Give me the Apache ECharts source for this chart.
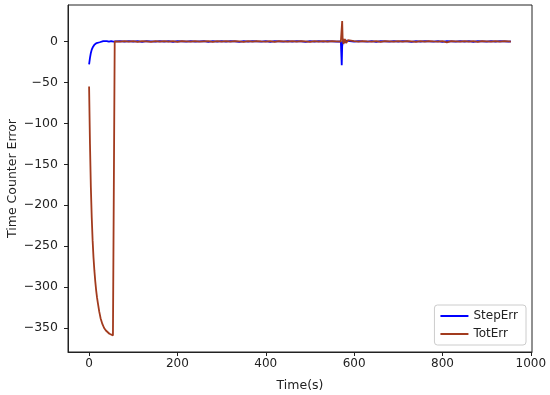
<!DOCTYPE html>
<html>
<head>
<meta charset="utf-8">
<script src="https://cdn.jsdelivr.net/npm/echarts@6/dist/echarts.min.js"></script>
<style>html,body{margin:0;padding:0;background:#fff}#c{width:550px;height:395px}</style>
</head>
<body>
<div id="c"></div>
<script>
// Sample times (s) for StepErr
const stepTime = [0,2,4,6,8,10,12,14,17,20,24,28,32,36,40,45,50,55,60,
  70,80,90,100,110,120,130,140,150,160,170,180,190,200,210,220,230,240,250,260,270,280,290,300,
  310,320,330,340,350,360,370,380,390,400,410,420,430,440,450,460,470,480,490,500,510,520,530,540,550,560,
  570,572,573,574,576,579,582,586,590,600,610,620,630,640,650,660,670,680,690,700,710,720,730,740,750,
  760,770,780,790,800,810,820,830,840,850,860,870,880,890,900,910,920,930,940,950,955];
const stepErr = [-28,-20,-14,-10,-7.5,-5.5,-4,-3,-2,-1.5,-1,-0.5,0.5,-0.5,0.5,-0.3,0.5,-0.3,0,
  0.3,-0.3,0.5,-0.3,0.3,-0.5,0.3,0,-0.3,0.5,-0.3,0.3,-0.5,0.3,0,-0.3,0.5,-0.3,0,0.3,-0.5,0.3,-0.3,0.5,
  -0.3,0.3,0,-0.5,0.3,-0.3,0.5,0,-0.3,0.3,-0.5,0.3,0,-0.3,0.5,-0.3,0.3,0,-0.5,0.3,-0.3,0.5,-0.3,0.3,0,-0.3,
  0,-29,-6,-2,2,-1.5,1,-0.5,0.3,-0.3,0.5,0,-0.3,0.3,-0.5,0.3,0,-0.3,0.5,-0.3,0.3,0,-0.5,0.3,-0.3,
  0.5,0,-0.3,0.3,-0.5,0.3,0,-0.3,0.5,-0.3,0.3,-0.5,0.3,0,-0.3,0.5,-0.3,0.3,0,-0.3,0];

// Sample times (s) for TotErr
const totTime = [0,2,4,6,8,10,12,14,16,18,20,23,26,30,34,38,42,46,50,54,57,58,60,
  70,80,90,100,110,120,130,140,150,160,170,180,190,200,210,220,230,240,250,260,270,280,290,300,
  310,320,330,340,350,360,370,380,390,400,410,420,430,440,450,460,470,480,490,500,510,520,530,540,550,560,
  570,572,573,574,576,579,582,586,590,600,610,620,630,640,650,660,670,680,690,700,710,720,730,740,750,
  760,770,780,790,800,810,820,830,840,850,860,870,880,890,900,910,920,930,940,950,955];
const totErr = [-55,-125,-178,-215,-243,-264,-280,-293,-304,-313,-320,-330,-338,-345,-350,-353,-355,-357,-358,-359,-360,0,1,
  -0.3,0.5,-0.3,0.3,-0.5,0.3,0,-0.5,0.3,-0.3,0.5,-0.3,0.3,-0.5,0.3,0,-0.3,0.5,-0.3,0,0.3,-0.5,0.3,-0.3,0.5,
  -0.3,0.3,0,-0.5,0.3,-0.3,0.5,0,-0.3,0.3,-0.5,0.3,0,-0.3,0.5,-0.3,0.3,0,-0.5,0.3,-0.3,0.5,-0.3,0.3,0,-0.3,
  0,25,4,-3,3,-2,1.5,-0.5,0.3,-0.3,0.5,0,-0.3,0.3,-0.5,0.3,0,-0.3,0.5,-0.3,0.3,0,-0.5,0.3,-0.3,
  0.5,0,-0.3,0.3,-1.2,0.3,0,-0.3,0.5,-0.3,0.3,-0.5,0.3,0,-0.3,0.5,-0.3,0.3,0,-0.3,0];

const xTicks = [0,200,400,600,800,1000];
const yTicks = [-350,-300,-250,-200,-150,-100,-50,0];

const seriesNames = ['StepErr','TotErr'];

const FONT = 'DejaVu Sans';
const minus = v => String(v).replace('-', '\u2212');

const chart = echarts.init(document.getElementById('c'), null, {renderer:'canvas'});
chart.setOption({
  animation:false,
  backgroundColor:'#fff',
  grid:{left:68,right:18,top:5,bottom:43,show:true,borderColor:'#222',borderWidth:1,backgroundColor:'transparent',
        containLabel:false,outerBoundsMode:'none'},
  legend:{
    right:24, bottom:50, orient:'vertical', itemGap:6,
    backgroundColor:'#fff', borderColor:'#ccc', borderWidth:1, borderRadius:3, padding:[5,8,5,6],
    itemWidth:28, itemHeight:2,
    icon:'rect',
    textStyle:{fontFamily:FONT,fontSize:12,color:'#222'},
    data:seriesNames
  },
  xAxis:{
    type:'value', min:-47.75, max:1002.75,
    name:'Time(s)', nameLocation:'middle', nameGap:27, nameMoveOverlap:false,
    nameTextStyle:{fontFamily:FONT,fontSize:12.5,color:'#222'},
    axisLine:{show:true,onZero:false,lineStyle:{color:'#222',width:1}},
    axisTick:{show:true,length:4,lineStyle:{color:'#222'},customValues:xTicks},
    axisLabel:{fontFamily:FONT,fontSize:12,color:'#222',margin:6,customValues:xTicks,formatter:minus},
    splitLine:{show:false}
  },
  yAxis:{
    type:'value', min:-379.3, max:44.5,
    name:'Time Counter Error', nameLocation:'middle', nameGap:49, nameRotate:90, nameMoveOverlap:false,
    nameTextStyle:{fontFamily:FONT,fontSize:12.5,color:'#222'},
    axisLine:{show:true,onZero:false,lineStyle:{color:'#222',width:1}},
    axisTick:{show:true,length:4,lineStyle:{color:'#222'},customValues:yTicks},
    axisLabel:{fontFamily:FONT,fontSize:12.5,color:'#222',margin:10,customValues:yTicks,formatter:minus},
    splitLine:{show:false}
  },
  series:[
    {name:seriesNames[0],type:'line',showSymbol:false,color:'#0000ff',lineStyle:{width:1.8,color:'#0000ff'},
     data:stepTime.map((t,i)=>[t,stepErr[i]]),z:2},
    {name:seriesNames[1],type:'line',showSymbol:false,color:'#a23b1e',lineStyle:{width:1.8,color:'#a23b1e'},
     data:totTime.map((t,i)=>[t,totErr[i]]),z:3}
  ]
});
</script>
</body>
</html>
